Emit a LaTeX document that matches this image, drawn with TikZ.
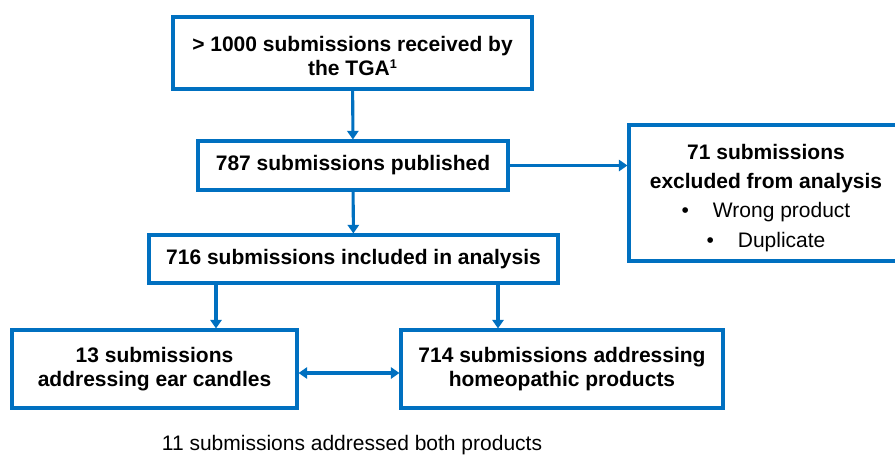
\documentclass[tikz,border=0pt]{standalone}
\usepackage{fontspec}
\setmainfont{Liberation Sans}
\usepackage{xcolor}
\usetikzlibrary{arrows.meta}
\definecolor{boxblue}{RGB}{0,112,192}

\tikzset{
	box/.style={draw=boxblue, line width=2.3pt, fill=white, align=center, inner sep=0pt, font=\fontsize{15.75}{18}\selectfont\bfseries},
	arr/.style={draw=boxblue, line width=2.3pt, -{Triangle[length=6.5pt,width=8.5pt]}},
	darr/.style={draw=boxblue, line width=2.3pt, {Triangle[length=6.5pt,width=8.5pt]}-{Triangle[length=6.5pt,width=8.5pt]}}
}

\begin{document}
\begin{tikzpicture}[x=0.75pt,y=0.75pt,yscale=-1]
	\useasboundingbox (0,0) rectangle (895,457);
	
	\node[box, minimum width=269.25pt, minimum height=54pt] (received) at (352.5,53) {\rule{0pt}{16pt}> 1000 submissions received by\\the TGA\raisebox{5.5pt}{\fontsize{9.5}{9.5}\selectfont 1}};
	\node[box, minimum width=232.5pt, minimum height=36.75pt] (published) at (353,165.5) {787 submissions published};
	\node[box, minimum width=205.5pt, minimum height=102pt] (excluded) at (766,193) {\rule{0pt}{18.5pt}71 submissions\\[4pt]excluded from analysis\\[4pt]
		{\mdseries\textbullet\hspace{18pt}Wrong product}\\[4pt]{\mdseries\textbullet\hspace{18pt}Duplicate}};
	\node[box, minimum width=306.75pt, minimum height=36pt] (included) at (353.5,259) {716 submissions included in analysis};
	\node[box, minimum width=213.75pt, minimum height=58.5pt] (earcandles) at (154.5,369) {13 submissions\\addressing ear candles};
	\node[box, minimum width=241.5pt, minimum height=58.5pt] (homeopathic) at (562,369) {714 submissions addressing\\homeopathic products};
	\node[font=\fontsize{15.75}{18}\selectfont] (both) at (352,445) {11 submissions addressed both products};
	
	\coordinate (leftx) at (216,0);
	\coordinate (rightx) at (498,0);
	\coordinate (midy) at (0,373);
	
	\draw[arr] (received) -- (published);
	\draw[arr] (published.east) -- (published.east -| excluded.west);
	\draw[arr] (published) -- (included);
	\draw[arr] (included.south -| leftx) -- (earcandles.north -| leftx);
	\draw[arr] (included.south -| rightx) -- (homeopathic.north -| rightx);
	\draw[darr] (earcandles.east |- midy) -- (homeopathic.west |- midy);
	
\end{tikzpicture}
\end{document}
